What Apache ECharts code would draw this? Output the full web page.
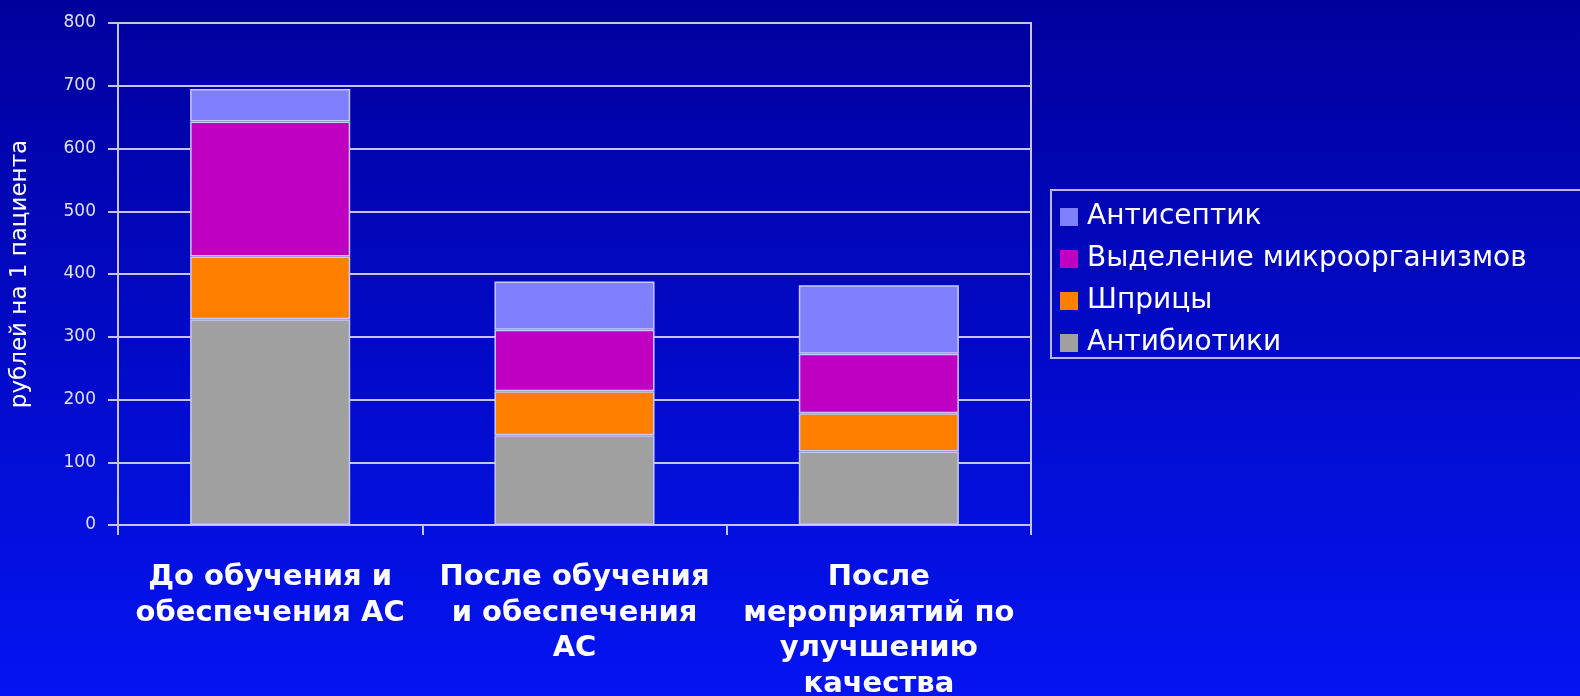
<!DOCTYPE html>
<html>
<head>
<meta charset="utf-8">
<style>
html,body{margin:0;padding:0;width:1580px;height:696px;overflow:hidden;}
#chart{width:1580px;height:696px;}
</style>
<script src="https://cdn.jsdelivr.net/npm/echarts@6/dist/echarts.min.js"></script>
</head>
<body>
<div id="chart"></div>
<script>
var categories = [
  'До обучения и\nобеспечения АС',
  'После обучения\nи обеспечения\nАС',
  'После\nмероприятий по\nулучшению\nкачества'
];
var antibiotics = [328, 143, 117];
var syringes = [100, 70, 61];
var microorganisms = [215, 98, 95];
var antiseptic = [52, 77, 109];
var seriesNames = ['Антибиотики', 'Шприцы', 'Выделение микроорганизмов', 'Антисептик'];
var legendOrder = ['Антисептик', 'Выделение микроорганизмов', 'Шприцы', 'Антибиотики'];
var yTicks = [0, 100, 200, 300, 400, 500, 600, 700, 800];
var yAxisName = 'рублей на 1 пациента';

var colors = ['#a0a0a0', '#ff8000', '#c000c0', '#8080ff'];
var seriesData = [antibiotics, syringes, microorganisms, antiseptic];
var lineCol = '#c4c4ee';

var chart = echarts.init(document.getElementById('chart'));
var series = seriesData.map(function (d, i) {
  return {
    name: seriesNames[i],
    type: 'bar',
    stack: 'total',
    barWidth: '52.6%',
    data: d,
    itemStyle: { color: colors[i], borderColor: '#c8c8ff', borderWidth: 1.5 },
    emphasis: { disabled: true }
  };
});

chart.setOption({
  animation: false,
  backgroundColor: {
    type: 'linear', x: 0, y: 0, x2: 0, y2: 1,
    colorStops: [{ offset: 0, color: '#00009c' }, { offset: 1, color: '#0414f2' }]
  },
  grid: {
    left: 118, right: 549, top: 23, bottom: 171,
    containLabel: false,
    outerBoundsMode: 'none',
    show: true, borderColor: lineCol, borderWidth: 2, backgroundColor: 'transparent'
  },
  legend: {
    data: legendOrder,
    orient: 'vertical',
    left: 1051, top: 190,
    padding: [13, 120, 1, 9],
    itemGap: 14,
    itemWidth: 18, itemHeight: 18,
    icon: 'rect',
    borderColor: '#b8b8d8', borderWidth: 2,
    textStyle: { color: '#ffffff', fontFamily: 'DejaVu Sans', fontSize: 28, lineHeight: 28, padding: [0, 0, 0, 4] },
    itemStyle: { borderWidth: 0 }
  },
  xAxis: {
    type: 'category',
    data: categories,
    axisLine: { lineStyle: { color: lineCol, width: 2 } },
    axisTick: { show: true, length: 10, lineStyle: { color: lineCol, width: 2 } },
    axisLabel: {
      color: '#ffffff', fontFamily: 'DejaVu Sans', fontWeight: 'bold', fontSize: 29, lineHeight: 35.5,
      margin: 35, interval: 0, hideOverlap: false
    }
  },
  yAxis: {
    type: 'value',
    min: 0, max: 800, interval: 100,
    name: yAxisName,
    nameLocation: 'middle',
    nameGap: 86,
    nameRotate: 90,
    nameTextStyle: { color: '#ffffff', fontFamily: 'DejaVu Sans', fontSize: 23 },
    axisLine: { show: true, lineStyle: { color: lineCol, width: 2 } },
    axisTick: { show: true, length: 10, lineStyle: { color: lineCol, width: 2 } },
    axisLabel: {
      color: '#e0e0f0', fontFamily: 'DejaVu Sans', fontSize: 17, margin: 22,
      formatter: function (v) { return yTicks.indexOf(v) >= 0 ? String(v) : ''; }
    },
    splitLine: { show: true, lineStyle: { color: lineCol, width: 2 } }
  },
  series: series
});
</script>
</body>
</html>
